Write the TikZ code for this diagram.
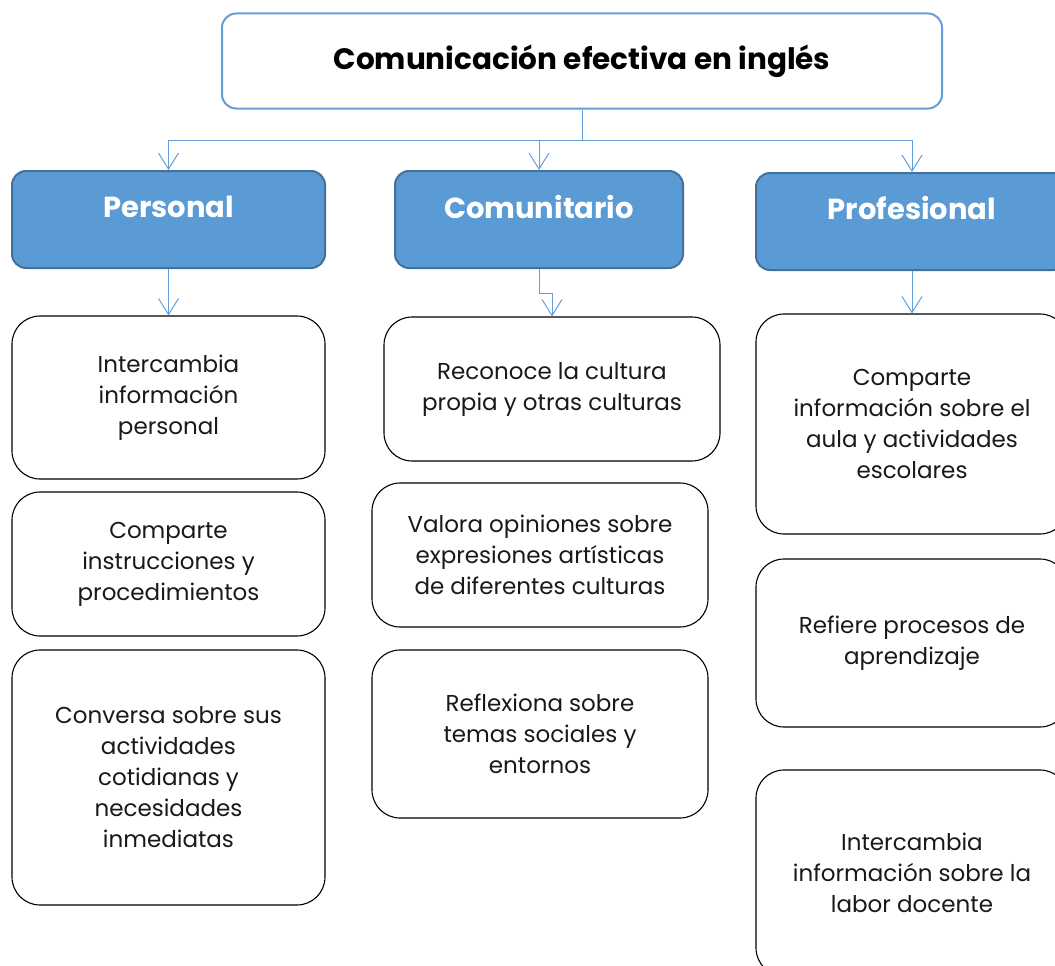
\documentclass[tikz,border=0pt]{standalone}
\usepackage{fontspec}
\setmainfont{Poppins}
\usetikzlibrary{arrows.meta}
\definecolor{headblue}{RGB}{91,155,213}
\definecolor{headedge}{RGB}{65,113,156}
\definecolor{linkblue}{RGB}{100,158,214}

\tikzset{
  titlebox/.style={draw=linkblue, line width=2pt, rounded corners=14pt, fill=white,
    inner sep=0pt, minimum width=720pt, minimum height=95pt,
    font=\bfseries\fontsize{29.5}{34}\selectfont},
  catbox/.style={draw=headedge, line width=2pt, fill=headblue, rounded corners=14pt,
    inner sep=0pt, minimum height=97pt},
  cattext/.style={text=white, inner sep=0pt, font=\bfseries\fontsize{29}{34}\selectfont},
  itembox/.style={draw=black, line width=1.1pt, rounded corners=28pt, fill=white,
    inner sep=0pt, align=center, text=black!90, font=\fontsize{23}{31}\selectfont},
  link/.style={draw=linkblue, line width=1pt, -{Straight Barb[length=16pt,width=20pt]}}
}

\begin{document}
\begin{tikzpicture}[x=1pt, y=-1pt]
    \useasboundingbox (0,0) rectangle (1055,966);
    \clip (0,0) rectangle (1055,966);

    % Main competence
    \node[titlebox] (title) at (582,61) {Comunicación efectiva en inglés};
    \coordinate (hub) at (582,140);

    % Three areas
    \node[catbox, minimum width=313pt] (per) at (168.5,219.5) {};
    \node[catbox, minimum width=288pt] (com) at (539,219.5) {};
    \node[catbox, minimum width=312pt] (pro) at (912,221.5) {};
    \node[cattext] (perlbl) at ([yshift=13pt]per.center) {Personal};
    \node[cattext] (comlbl) at ([yshift=13pt]com.center) {Comunitario};
    \node[cattext] (prolbl) at ([yshift=13pt]pro.center) {Profesional};

    % Personal column
    \node[itembox, minimum width=313pt, minimum height=163pt] (per1) at (168.5,397.5)
      {Intercambia\\información\\personal};
    \node[itembox, minimum width=313pt, minimum height=144pt] (per2) at (168.5,564)
      {Comparte\\instrucciones y\\procedimientos};
    \node[itembox, minimum width=313pt, minimum height=255pt] (per3) at (168.5,777.5)
      {Conversa sobre sus\\actividades\\cotidianas y\\necesidades\\inmediatas};

    % Comunitario column
    \node[itembox, minimum width=336pt, minimum height=144pt] (com1) at (552,389)
      {Reconoce la cultura\\propia y otras culturas};
    \node[itembox, minimum width=336pt, minimum height=144pt] (com2) at (540,555)
      {Valora opiniones sobre\\expresiones artísticas\\de diferentes culturas};
    \node[itembox, minimum width=336pt, minimum height=168pt] (com3) at (540,734)
      {Reflexiona sobre\\temas sociales y\\entornos};

    % Profesional column
    \node[itembox, minimum width=312pt, minimum height=220pt] (pro1) at (912,424)
      {Comparte\\información sobre el\\aula y actividades\\escolares};
    \node[itembox, minimum width=312pt, minimum height=168pt] (pro2) at (912,643)
      {Refiere procesos de\\aprendizaje};
    \node[itembox, minimum width=312pt, minimum height=206pt] (pro3) at (912,873)
      {Intercambia\\información sobre la\\labor docente};

    % Connectors
    \draw[draw=linkblue, line width=1pt] (title.south) -- (hub);
    \draw[link] (hub) -| (per.north);
    \draw[link] (hub) -| (com.north);
    \draw[link] (hub) -| (pro.north);
    \draw[link] (per.south) -- (per1.north);
    \draw[link] (com.south) -- ++(0,24) -| (com1.north);
    \draw[link] (pro.south) -- (pro1.north);
\end{tikzpicture}
\end{document}
